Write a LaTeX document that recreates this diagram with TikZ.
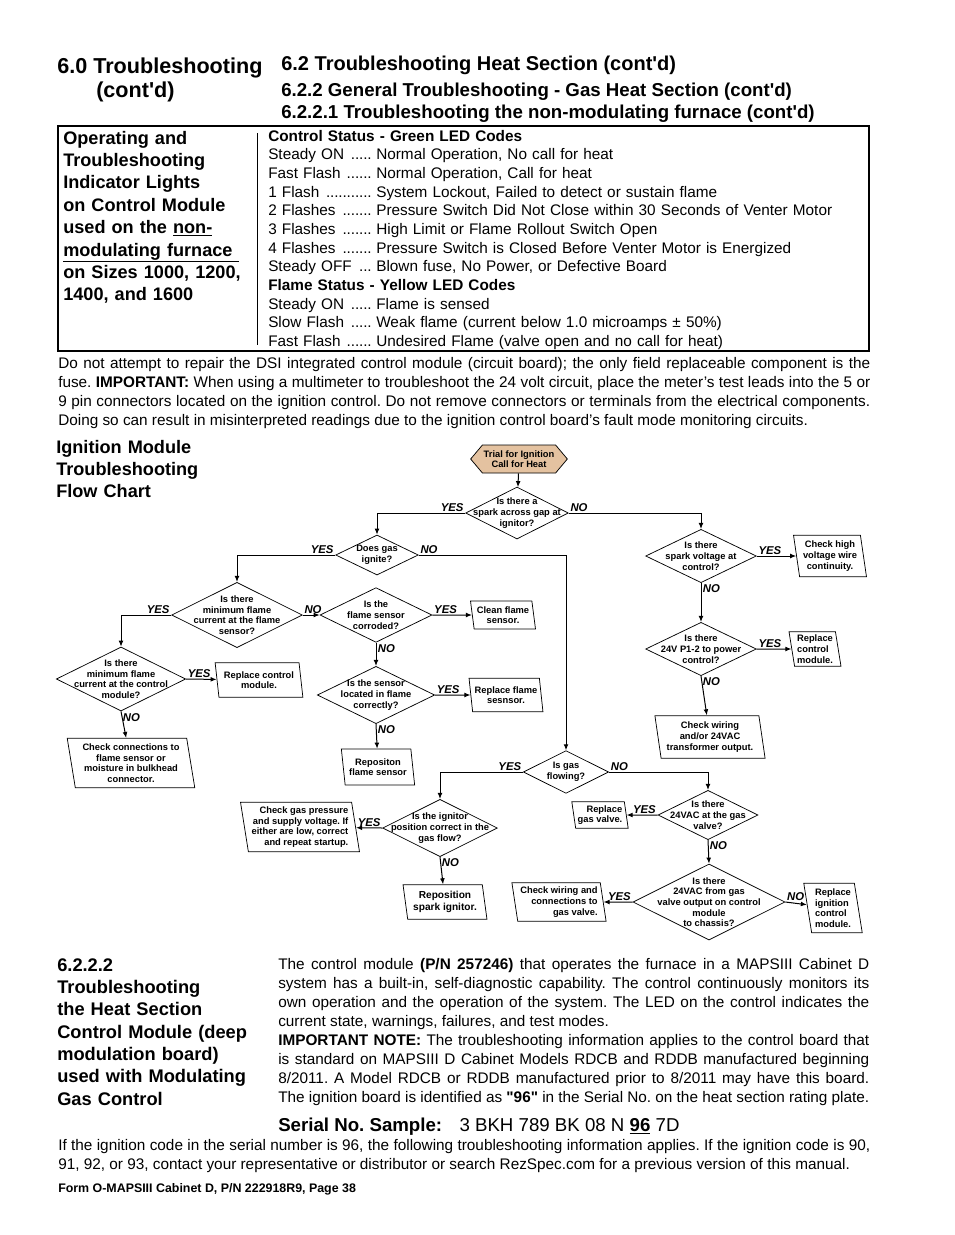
\documentclass[tikz,border=0pt]{standalone}
\usepackage{fontspec}
\setmainfont{Liberation Sans}[Ligatures=TeXOff]
\usetikzlibrary{arrows.meta,shapes.geometric,shapes.symbols}
\definecolor{trialtan}{RGB}{228,194,160}
\newcommand{\ledcode}[2]{\makebox[81pt][l]{#1\ \leaders\hbox to 3.1pt{\hss.\hss}\hfill\,}#2}
\frenchspacing

\begin{document}
\begin{tikzpicture}[x=0.75pt, y=-0.75pt,
  >={Latex[length=4.5pt,width=3.6pt]},
  txt/.style={inner sep=0pt, anchor=base west},
  headline/.style={txt, font=\bfseries\fontsize{#1}{#1}\selectfont},
  block/.style={txt, align=left, text width=165pt, font=\bfseries\fontsize{13.6}{16.8}\selectfont},
  body/.style={txt, align=justify, font=\fontsize{11.5}{14.25}\selectfont},
  quest/.style 2 args={diamond, draw, line width=0.55pt, inner sep=0pt, minimum width=#1, minimum height=#2},
  qtxt/.style={font=\bfseries\fontsize{7}{8}\selectfont, align=center, inner sep=0pt},
  act/.style 2 args={trapezium, trapezium left angle=100, trapezium right angle=80, trapezium stretches=true,
    draw, line width=0.55pt, inner xsep=1.5pt, inner ysep=1pt, minimum width=#1, minimum height=#2,
    font=\bfseries\fontsize{7}{8}\selectfont, align=center},
  yn/.style={font=\bfseries\itshape\fontsize{8.5}{8.5}\selectfont, inner sep=1pt},
  flow/.style={->, line width=0.75pt},
]
\useasboundingbox (0,0) rectangle (954,1235);
\fill[white] (0,0) rectangle (954,1235);

% page headings
\node[headline=16.2] (h60) at (57,73) {6.0 Troubleshooting};
\node[headline=16.2] (h60b) at (96,97) {(cont'd)};
\node[headline=15] (h62) at (281,70) {6.2 Troubleshooting Heat Section (cont'd)};
\node[headline=14] (h622) at (281,96) {6.2.2 General Troubleshooting - Gas Heat Section (cont'd)};
\node[headline=14] (h6221) at (281,118) {6.2.2.1 Troubleshooting the non-modulating furnace (cont'd)};

% LED code table
\draw[line width=1.1pt] (58,126) rectangle (869,351);
\draw[line width=0.7pt] (257,133) -- (257,345);
\node[block] (ledtitle) at (63,144) {Operating and\\Troubleshooting\\Indicator Lights\\on Control Module\\
  used on the \underline{non-}\\\underline{modulating furnace\ }\\on Sizes 1000, 1200,\\1400, and 1600};
\node[txt, align=left, text width=445pt, font=\fontsize{11.5}{14}\selectfont] (ledcodes) at (268,141) {%
  \textbf{Control Status - Green LED Codes}\\
  \ledcode{Steady ON}{Normal Operation, No call for heat}\\
  \ledcode{Fast Flash}{Normal Operation, Call for heat}\\
  \ledcode{1 Flash}{System Lockout, Failed to detect or sustain flame}\\
  \ledcode{2 Flashes}{Pressure Switch Did Not Close within 30 Seconds of Venter Motor}\\
  \ledcode{3 Flashes}{High Limit or Flame Rollout Switch Open}\\
  \ledcode{4 Flashes}{Pressure Switch is Closed Before Venter Motor is Energized}\\
  \ledcode{Steady OFF}{Blown fuse, No Power, or Defective Board}\\
  \textbf{Flame Status - Yellow LED Codes}\\
  \ledcode{Steady ON}{Flame is sensed}\\
  \ledcode{Slow Flash}{Weak flame (current below 1.0 microamps ± 50\%)}\\
  \ledcode{Fast Flash}{Undesired Flame (valve open and no call for heat)}};

\node[body, text width=609pt] (repair) at (58,368) {Do not attempt to repair the DSI integrated control
  module (circuit board); the only field replaceable component is the\linebreak fuse. \textbf{IMPORTANT:}
  When using a multimeter to troubleshoot the 24 volt circuit, place the meter’s test leads into the 5
  or\linebreak 9 pin connectors located on the ignition control. Do not remove connectors or terminals from
  the electrical components.\linebreak Doing so can result in misinterpreted readings due to the ignition
  control board’s fault mode monitoring circuits.};

\node[block, font=\bfseries\fontsize{13.6}{16.5}\selectfont] (charttitle) at (56,453) {Ignition Module\\Troubleshooting\\Flow Chart};

% flow chart
\node[signal, signal to=west and east, signal pointer angle=100, draw, line width=0.55pt, fill=trialtan,
  minimum width=71pt, minimum height=21pt, inner sep=1pt, font=\bfseries\fontsize{7}{8}\selectfont,
  align=center] (trial) at (519,459) {Trial for Ignition\\Call for Heat};
\node[quest={77pt}{39pt}, label={[qtxt]center:{Is there a\\spark across gap at\\ignitor?}}] (spark) at (517,513) {};
\node[quest={62pt}{30pt}, label={[qtxt]center:{Does gas\\ignite?}}] (ignite) at (377,555) {};
\node[quest={83pt}{40pt}, label={[qtxt]center:{Is there\\spark voltage at\\control?}}] (sparkv) at (701,556) {};
\node[quest={83pt}{40pt}, label={[qtxt]center:{Is there\\24V P1-2 to power\\control?}}] (power) at (701,649) {};
\node[quest={98pt}{49pt}, label={[qtxt]center:{Is there\\minimum flame\\current at the flame\\sensor?}}] (fsensor) at (237,615) {};
\node[quest={97pt}{48pt}, label={[qtxt]center:{Is there\\minimum flame\\current at the control\\module?}}] (fmodule) at (121,679) {};
\node[quest={84pt}{41pt}, label={[qtxt]center:{Is the\\flame sensor\\corroded?}}] (corroded) at (376,615) {};
\node[quest={88pt}{43pt}, label={[qtxt]center:{Is the sensor\\located in flame\\correctly?}}] (located) at (376,695) {};
\node[quest={64pt}{32pt}, label={[qtxt]center:{Is gas\\flowing?}}] (flowing) at (566,772) {};
\node[quest={86pt}{43pt}, label={[qtxt]center:{Is the ignitor\\position correct in the\\gas flow?}}] (ignpos) at (440,828) {};
\node[quest={75pt}{37pt}, label={[qtxt]center:{Is there\\24VAC at the gas\\valve?}}] (valve24) at (708,815) {};
\node[quest={114pt}{57pt}, label={[qtxt]center:{Is there\\24VAC from gas\\valve output on control\\module\\to chassis?}}] (chassis) at (709,902) {};

\node[act={55pt}{31pt}] (hvwire) at (830,556) {Check high\\voltage wire\\continuity.};
\node[act={39pt}{26pt}, align=left] (repctl2) at (815,649) {Replace\\control\\module.};
\node[act={83pt}{32pt}] (chkxfmr) at (710,737) {Check wiring\\and/or 24VAC\\transformer output.};
\node[act={49pt}{21pt}] (clean) at (503,615) {Clean flame\\sensor.};
\node[act={54pt}{25pt}] (repsens) at (506,695) {Replace flame\\sesnsor.};
\node[act={55pt}{27pt}] (repos) at (378,767) {Repositon\\flame sensor};
\node[act={66pt}{26pt}] (repctl1) at (259,680) {Replace control\\module.};
\node[act={96pt}{37pt}] (chkconn) at (131,763) {Check connections to\\flame sensor or\\moisture in bulkhead\\connector.};
\node[act={90pt}{37pt}, align=right] (chkgas) at (300,827) {Check gas pressure\\and supply voltage. If\\either are low, correct\\and repeat startup.};
\node[act={63pt}{26pt}, font=\bfseries\fontsize{7.6}{9}\selectfont] (repspark) at (445,902) {Reposition\\spark ignitor.};
\node[act={41pt}{20pt}, align=right] (repvalve) at (600,815) {Replace\\gas valve.};
\node[act={71pt}{29pt}, align=right] (chkvalve) at (559,902) {Check wiring and\\connections to\\gas valve.};
\node[act={44pt}{37pt}, align=left] (repign) at (833,908) {Replace\\ignition\\control\\module.};

\draw[flow] (trial) -- (spark);
\draw[flow] (spark.west) -| node[yn, at start, anchor=south east] (y1) {YES} (ignite.north);
\draw[flow] (spark.east) -| node[yn, at start, anchor=south west] (n1) {NO} (sparkv.north);
\draw[flow] (sparkv.east) -- node[yn, at start, anchor=south west] (y2) {YES} (hvwire);
\draw[flow] (sparkv.south) -- node[yn, at start, anchor=north west] (n2) {NO} (power.north);
\draw[flow] (power.east) -- node[yn, at start, anchor=south west] (y3) {YES} (repctl2);
\draw[flow] (power.south) -- node[yn, at start, anchor=north west] (n3) {NO} (chkxfmr);
\draw[flow] (ignite.west) -| node[yn, at start, anchor=south east] (y4) {YES} (fsensor.north);
\draw[flow] (ignite.east) -| node[yn, at start, anchor=south west] (n4) {NO} (flowing.north);
\draw[flow] (fsensor.west) -| node[yn, at start, anchor=south east] (y5) {YES} (fmodule.north);
\draw[flow] (fsensor.east) -- node[yn, at start, anchor=south west] (n5) {NO} (corroded.west);
\draw[flow] (fmodule.east) -- node[yn, at start, anchor=south west] (y6) {YES} (repctl1);
\draw[flow] (fmodule.south) -- node[yn, at start, anchor=north west] (n6) {NO} (chkconn);
\draw[flow] (corroded.east) -- node[yn, at start, anchor=south west] (y7) {YES} (clean);
\draw[flow] (corroded.south) -- node[yn, at start, anchor=north west] (n7) {NO} (located.north);
\draw[flow] (located.east) -- node[yn, at start, anchor=south west] (y8) {YES} (repsens);
\draw[flow] (located.south) -- node[yn, at start, anchor=north west] (n8) {NO} (repos);
\draw[flow] (flowing.west) -| node[yn, at start, anchor=south east] (y9) {YES} (ignpos.north);
\draw[flow] (flowing.east) -| node[yn, at start, anchor=south west] (n9) {NO} (valve24.north);
\draw[flow] (ignpos.west) -- node[yn, at start, anchor=south east] (y10) {YES} (chkgas);
\draw[flow] (ignpos.south) -- node[yn, at start, anchor=north west] (n10) {NO} (repspark);
\draw[flow] (valve24.west) -- node[yn, at start, anchor=south east] (y11) {YES} (repvalve);
\draw[flow] (valve24.south) -- node[yn, at start, anchor=north west] (n11) {NO} (chassis.north);
\draw[flow] (chassis.west) -- node[yn, at start, anchor=south east] (y12) {YES} (chkvalve);
\draw[flow] (chassis.east) -- node[yn, at start, anchor=south west] (n12) {NO} (repign);

% deep modulation board
\node[block, font=\bfseries\fontsize{13.7}{16.75}\selectfont] (modtitle) at (57,971) {6.2.2.2\\Troubleshooting\\
  the Heat Section\\Control Module (deep\\modulation board)\\used with Modulating\\Gas Control};
\node[body, text width=443.25pt] (modtext) at (278,969) {\parfillskip=0pt The control module \textbf{(P/N 257246)}
  that operates the furnace in a MAPSIII Cabinet D\linebreak system has a built-in, self-diagnostic capability.
  The control continuously monitors its\linebreak own operation and the operation of the system. The LED on
  the control indicates the\linebreak current state, warnings, failures, and test modes.\hfill\null\linebreak
  \textbf{IMPORTANT NOTE:} The troubleshooting information applies to the control board that\linebreak is
  standard on MAPSIII D Cabinet Models RDCB and RDDB manufactured beginning\linebreak 8/2011. A Model RDCB or
  RDDB manufactured prior to 8/2011 may have this board.\linebreak The ignition board is identified as
  \textbf{"96"} in the Serial No. on the heat section rating plate.};
\node[txt, font=\fontsize{14}{14}\selectfont] (serial) at (278,1131) {\textbf{Serial No. Sample:}\hspace{13pt}3 BKH
  789 BK 08 N \textbf{\underline{96}} 7D};
\node[body, text width=609pt] (ignmatch) at (58,1150) {If the ignition code in the serial number is 96, the
  following troubleshooting information applies. If the ignition code is 90,\linebreak 91, 92, or 93,
  contact your representative or distributor or search RezSpec.com for a previous version of this manual.};
\node[headline=9.3] (footer) at (58,1192) {Form O-MAPSIII Cabinet D, P/N 222918R9, Page 38};
\end{tikzpicture}
\end{document}
